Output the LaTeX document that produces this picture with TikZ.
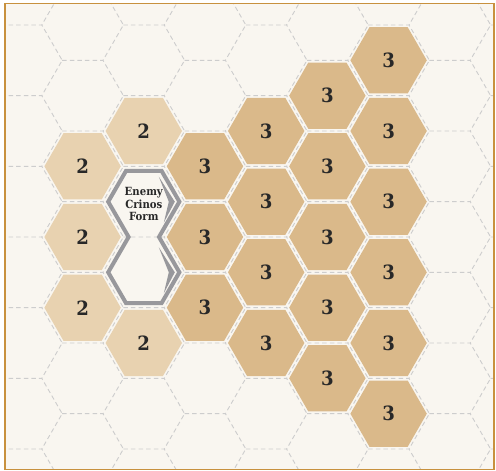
\documentclass[tikz,border=0pt]{standalone}
\usepackage{fontspec}
\usetikzlibrary{shapes.geometric}
\newfontfamily\hexfont{DejaVu Serif}[FakeStretch=0.92]
\newfontfamily\enemyfont{DejaVu Serif}[FakeStretch=0.9]
\definecolor{paper}{RGB}{249,246,240}
\definecolor{frameline}{RGB}{200,145,62}
\definecolor{gridline}{RGB}{205,205,205}
\definecolor{tanlight}{RGB}{232,210,176}
\definecolor{tandark}{RGB}{218,185,138}
\definecolor{enemygray}{RGB}{152,152,156}
\definecolor{ink}{RGB}{40,40,40}

\begin{document}
\begin{tikzpicture}[x=0.025cm,y=-0.025cm,
  hexcell/.style={regular polygon,regular polygon sides=6,minimum size=1.91cm,
    inner sep=0pt,outer sep=0pt,text=ink,
    font=\hexfont\bfseries\fontsize{14pt}{14pt}\selectfont},
  twohex/.style={hexcell,fill=tanlight},
  threehex/.style={hexcell,fill=tandark},
  gridedge/.style={gridline,line width=0.65pt,dash pattern=on 3.2pt off 2.2pt},
  enemyline/.style={enemygray,line width=2.85pt,line join=miter}]
  \useasboundingbox (0,0) rectangle (496,471);
  \fill[white] (0,0) rectangle (496,471);
  \fill[paper] (5,3.5) rectangle (494,469.5);

  % dashed hex grid
  \begin{scope}
    \clip (5,3.5) rectangle (494,469.5);
    \foreach \c in {0,...,9}{
      \foreach \r in {-3,...,6}{
        \pgfmathsetmacro{\hx}{82.6+61.2*(\c-2)}
        \pgfmathsetmacro{\hy}{131+70.67*\r+35.33*(1-mod(\c,2))}
        \draw[gridedge] (\hx-20.4,\hy-35.33) -- (\hx+20.4,\hy-35.33)
          -- (\hx+40.8,\hy) -- (\hx+20.4,\hy+35.33);
      }
    }
  \end{scope}

  % cost 2 hexes
  \foreach \x/\y/\k in {82.6/166.3/1,82.6/237/2,82.6/307.7/3,143.8/131/4,143.8/343/5}
    \node[twohex] (two\k) at (\x,\y) {2};
  % cost 3 hexes
  \foreach \x/\y/\k in {205/166.3/1,205/237/2,205/307.7/3,
      266.2/131/4,266.2/201.7/5,266.2/272.3/6,266.2/343/7,
      327.4/95.7/8,327.4/166.3/9,327.4/237/10,327.4/307.7/11,327.4/378.3/12,
      388.6/60.3/13,388.6/131/14,388.6/201.7/15,388.6/272.3/16,388.6/343/17,388.6/413.7/18}
    \node[threehex] (three\k) at (\x,\y) {3};

  % enemy footprint
  \draw[enemyline] (126,170.9) -- (161.6,170.9) -- (179.4,201.7) -- (159,237)
    -- (179.4,272.3) -- (161.6,303.1) -- (126,303.1) -- (108.2,272.3)
    -- (128.6,237) -- (108.2,201.7) -- cycle;
  \foreach \y in {201.7,272.3}
    \fill[enemygray] (158.8,\y-25) -- (174.8,\y) -- (163.8,\y+21) -- (168.8,\y) -- cycle;
  \node[font=\enemyfont\bfseries\fontsize{8pt}{9pt}\selectfont,
    align=center,text=ink] (enemy) at (143.8,204) {Enemy\\Crinos\\Form};

  \draw[frameline,line width=1.1pt] (5,3.5) rectangle (494,469.5);
\end{tikzpicture}
\end{document}
